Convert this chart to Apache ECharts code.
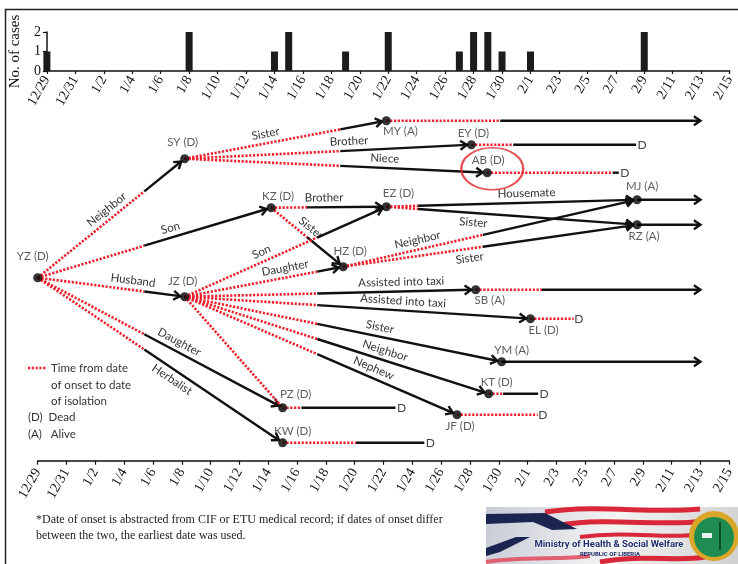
<!DOCTYPE html>
<html>
<head>
<meta charset="utf-8">
<script src="https://cdn.jsdelivr.net/npm/echarts@6/dist/echarts.min.js"></script>
<style>
html, body { margin: 0; padding: 0; background: #fff; }
#chart { width: 738px; height: 564px; }
</style>
</head>
<body>
<div id="chart"></div>
<script>
// axis tick labels, one every 2 days from 12/29
var tickLabels = ['12/29','12/31','1/2','1/4','1/6','1/8','1/10','1/12','1/14','1/16','1/18','1/20','1/22',
    '1/24','1/26','1/28','1/30','2/1','2/3','2/5','2/7','2/9','2/11','2/13','2/15'];

// epi curve (top)
var caseDates  = ['12/29','1/8','1/14','1/15','1/19','1/22','1/27','1/28','1/29','1/30','2/1','2/9'];
var caseCounts = [1, 2, 1, 2, 1, 2, 1, 2, 2, 1, 1, 2];

// transmission tree (bottom), days counted from 12/29
var nodeNames  = ['YZ','SY','JZ','KZ','PZ','KW','HZ','MY','EZ','EY','AB','SB','JF','KT','YM','EL','MJ','RZ'];
var nodeStatus = ['D','D','D','D','D','D','D','A','D','D','D','A','D','D','A','D','A','A'];
var onsetDay   = [0, 10.2, 10.2, 16.2, 17, 17, 21.2, 24.2, 24.2, 30.1, 31.2, 30.4, 29.1, 31.3, 32.2, 34.2, 41.6, 41.6];
var isolateDay = [7.4, 21, 19.4, 18.7, 18.3, 22.1, 30.9, 32.1, 26.4, 33, 39.9, 35, 34.7, 32.3, 32.2, 37.2, 41.6, 41.6];
var endDay     = [null, null, null, null, 24.9, 26.9, null, 46, null, 41.6, 40.4, 46, 34.7, 34.8, 46, 37.2, 46, 46];

var edgeFrom  = ['YZ','YZ','YZ','YZ','YZ','SY','SY','SY','KZ','KZ','JZ','JZ','JZ','JZ','JZ','JZ','JZ','JZ','EZ','EZ','HZ','HZ'];
var edgeTo    = ['SY','KZ','JZ','PZ','KW','MY','EY','AB','EZ','HZ','EZ','HZ','SB','EL','YM','KT','JF','PZ','MJ','RZ','MJ','RZ'];
var edgeLabel = ['Neighbor','Son','Husband','Daughter','Herbalist','Sister','Brother','Niece','Brother','Sister','Son',
    'Daughter','Assisted into taxi','Assisted into taxi','Sister','Neighbor','Nephew','','Housemate','Sister','Neighbor','Sister'];

// layout only: vertical row of each case, label placement
var nodeRow = [18.3, 30.2, 16.4, 25.3, 5.3, 1.8, 19.4, 34.0, 25.4, 31.6, 28.8, 17.1, 4.6, 6.7, 9.9, 14.2, 26.1, 23.6];
var nodeLabelOffset = [[-5,-21],[-2,-16],[-2,-15],[7,-11],[13,-13],[10,-11],[7,-15],[14,11],[12,-13],[2,-11],
    [1,-12],[14,11],[3,12],[8,-11],[10,-11],[13,12],[5,-13],[7,12]];
var labelAt   = [0.51,0.58,0.64,0.56,0.57,0.41,0.575,0.66,0.46,0.47,0.4,0.645,0.745,0.63,0.61,0.65,0.68,0,0.56,0.35,0.26,0.426];
var labelSide = [1,1,1,1,-1,1,1,1,1,1,1,1,1,1,1,1,1,1,1,-1,1,-1];

function toDay(s) {
    var p = s.split('/'), m = +p[0], d = +p[1];
    if (m === 12) return d - 29;
    if (m === 1) return d + 2;
    return d + 33;
}

var serif = '"Liberation Serif", "Times New Roman", serif';
var sans = 'Lato, "Open Sans", sans-serif';
var red = '#ee1f2a';
var redStyle = {stroke: red, lineWidth: 2.6, lineDash: [2.2, 1.6], fill: null};
var blackStyle = {stroke: '#111', lineWidth: 2.4, fill: null};

function arrowHead(tip, ux, uy) {
    var L = 8, th = 0.6, c = Math.cos(th), s = Math.sin(th);
    var vx = -ux, vy = -uy;
    var a1 = [tip[0] + L * (vx * c - vy * s), tip[1] + L * (vx * s + vy * c)];
    var a2 = [tip[0] + L * (vx * c + vy * s), tip[1] + L * (-vx * s + vy * c)];
    return {type: 'polyline', shape: {points: [a1, tip, a2]},
        style: {stroke: '#111', lineWidth: 2.4, fill: null, lineJoin: 'miter'}};
}

function edgeItem(params, api) {
    var i = params.dataIndex;
    var s = nodeNames.indexOf(edgeFrom[i]), t = nodeNames.indexOf(edgeTo[i]);
    var p0 = api.coord([onsetDay[s], nodeRow[s]]);
    var p1 = api.coord([onsetDay[t], nodeRow[t]]);
    var f = (isolateDay[s] - onsetDay[s]) / (onsetDay[t] - onsetDay[s]);
    f = Math.max(0, Math.min(1, f));
    var dx = p1[0] - p0[0], dy = p1[1] - p0[1], len = Math.sqrt(dx * dx + dy * dy);
    var ux = dx / len, uy = dy / len;
    var pm = [p0[0] + dx * f, p0[1] + dy * f];
    var tip = [p1[0] - ux * 4.5, p1[1] - uy * 4.5];
    var children = [];
    if (f > 0) children.push({type: 'line', shape: {x1: p0[0], y1: p0[1], x2: pm[0], y2: pm[1]}, style: redStyle});
    if (f < 1) {
        children.push({type: 'line', shape: {x1: pm[0], y1: pm[1], x2: tip[0], y2: tip[1]}, style: blackStyle});
        children.push(arrowHead(tip, ux, uy));
    }
    if (edgeLabel[i]) {
        var a = labelAt[i], side = labelSide[i];
        children.push({type: 'text', x: p0[0] + dx * a + uy * 9.5 * side, y: p0[1] + dy * a - ux * 9.5 * side,
            rotation: -Math.atan2(dy, dx),
            style: {text: edgeLabel[i], align: 'center', verticalAlign: 'middle', font: '11.5px ' + sans, fill: '#333'}});
    }
    return {type: 'group', children: children};
}

var tailNodes = [];
endDay.forEach(function (v, i) { if (v !== null) tailNodes.push(i); });

function tailItem(params, api) {
    var k = tailNodes[params.dataIndex];
    var p0 = api.coord([onsetDay[k], nodeRow[k]]);
    var pi = api.coord([isolateDay[k], nodeRow[k]]);
    var pe = api.coord([endDay[k], nodeRow[k]]);
    var children = [];
    if (pi[0] > p0[0]) children.push({type: 'line', shape: {x1: p0[0], y1: p0[1], x2: pi[0], y2: pi[1]}, style: redStyle});
    if (pe[0] > pi[0]) children.push({type: 'line', shape: {x1: pi[0], y1: pi[1], x2: pe[0] - 1, y2: pe[1]}, style: blackStyle});
    if (nodeStatus[k] === 'A') {
        children.push(arrowHead(pe, 1, 0));
    } else {
        children.push({type: 'text', x: pe[0] + 0.5, y: pe[1],
            style: {text: 'D', align: 'left', verticalAlign: 'middle', font: '12px ' + sans, fill: '#444'}});
    }
    return {type: 'group', children: children};
}

var axisLabelStyle = {fontFamily: serif, fontSize: 14, color: '#111', rotate: 60,
    formatter: function (v) { return tickLabels[Math.round(v / 2)]; }};

var chart = echarts.init(document.getElementById('chart'));
chart.setOption({
    animation: false,
    backgroundColor: '#fff',
    grid: [
        {left: 42.7, right: 8.4, top: 32, height: 39},
        {left: 37.7, right: 8.7, top: 100.7, height: 360}
    ],
    xAxis: [
        {type: 'value', gridIndex: 0, min: 0, max: 48, interval: 2, splitLine: {show: false},
            axisLine: {lineStyle: {color: '#111', width: 1.5}},
            axisTick: {length: 3, lineStyle: {color: '#111', width: 1.2}},
            axisLabel: Object.assign({margin: 6}, axisLabelStyle)},
        {type: 'value', gridIndex: 1, min: 0, max: 48, interval: 2, splitLine: {show: false},
            axisLine: {lineStyle: {color: '#111', width: 1.5}},
            axisTick: {length: 4, lineStyle: {color: '#111', width: 1.2}},
            axisLabel: Object.assign({margin: 9}, axisLabelStyle)}
    ],
    yAxis: [
        {type: 'value', gridIndex: 0, min: 0, max: 2, interval: 1, splitLine: {show: false},
            name: 'No. of cases', nameLocation: 'middle', nameRotate: 90, nameGap: 20,
            nameTextStyle: {fontFamily: serif, fontSize: 15, color: '#111'},
            axisLine: {show: true, lineStyle: {color: '#111', width: 1.5}},
            axisTick: {show: true, length: 4, lineStyle: {color: '#111', width: 1.2}},
            axisLabel: {fontFamily: serif, fontSize: 14, color: '#111', margin: 6}},
        {type: 'value', gridIndex: 1, min: 0, max: 36, show: false}
    ],
    graphic: [
        {type: 'polyline', silent: true, shape: {points: [[5.5, 564], [5.5, 9.5], [738, 9.5]]},
            style: {stroke: '#222', lineWidth: 1.5, fill: null}},
        // legend
        {type: 'line', shape: {x1: 28, y1: 368, x2: 47, y2: 368}, style: redStyle},
        {type: 'text', x: 51, y: 368, style: {text: 'Time from date', font: '11.5px ' + sans, fill: '#333', verticalAlign: 'middle'}},
        {type: 'text', x: 51, y: 385, style: {text: 'of onset to date', font: '11.5px ' + sans, fill: '#333', verticalAlign: 'middle'}},
        {type: 'text', x: 51, y: 401, style: {text: 'of isolation', font: '11.5px ' + sans, fill: '#333', verticalAlign: 'middle'}},
        {type: 'text', x: 28, y: 417, style: {text: '(D)  Dead', font: '11.5px ' + sans, fill: '#333', verticalAlign: 'middle'}},
        {type: 'text', x: 28, y: 434, style: {text: '(A)   Alive', font: '11.5px ' + sans, fill: '#333', verticalAlign: 'middle'}},
        // footnote
        {type: 'text', x: 36, y: 520, style: {text: '*Date of onset is abstracted from CIF or ETU medical record; if dates of onset differ',
            font: '12px ' + serif, fill: '#222', verticalAlign: 'middle'}},
        {type: 'text', x: 36, y: 536, style: {text: 'between the two, the earliest date was used.',
            font: '12px ' + serif, fill: '#222', verticalAlign: 'middle'}},
        // ministry banner
        {type: 'group', silent: true, children: [
            {type: 'rect', shape: {x: 486, y: 507, width: 252, height: 57},
                style: {fill: new echarts.graphic.LinearGradient(0, 0, 1, 1, [
                    {offset: 0, color: '#c8cbd6'}, {offset: 0.5, color: '#f4f4f4'}, {offset: 1, color: '#d0d0d0'}])}},
            {type: 'bezierCurve', shape: {x1: 545, y1: 512, cpx1: 600, cpy1: 504, cpx2: 650, cpy2: 514, x2: 700, y2: 509},
                style: {stroke: '#d9283a', lineWidth: 5, fill: null}},
            {type: 'bezierCurve', shape: {x1: 560, y1: 525, cpx1: 610, cpy1: 517, cpx2: 660, cpy2: 527, x2: 705, y2: 521},
                style: {stroke: '#d9283a', lineWidth: 5, fill: null}},
            {type: 'bezierCurve', shape: {x1: 580, y1: 537, cpx1: 630, cpy1: 530, cpx2: 670, cpy2: 540, x2: 700, y2: 534},
                style: {stroke: '#d9283a', lineWidth: 4, fill: null}},
            {type: 'bezierCurve', shape: {x1: 600, y1: 562, cpx1: 640, cpy1: 554, cpx2: 680, cpy2: 562, x2: 705, y2: 557},
                style: {stroke: '#d9283a', lineWidth: 5, fill: null}},
            {type: 'bezierCurve', shape: {x1: 486, y1: 562, cpx1: 520, cpy1: 556, cpx2: 560, cpy2: 560, x2: 590, y2: 556},
                style: {stroke: '#e06070', lineWidth: 4, fill: null}},
            {type: 'polygon', shape: {points: [[486, 514], [545, 513], [577, 529], [552, 530], [533, 522], [486, 524]]},
                style: {fill: '#1c2450'}},
            {type: 'polygon', shape: {points: [[486, 548], [516, 537], [530, 537], [500, 552], [486, 556]]},
                style: {fill: '#1c2450'}},
            {type: 'text', x: 609, y: 545, style: {text: 'Ministry of Health & Social Welfare', align: 'center', verticalAlign: 'middle',
                font: 'bold 9.5px Roboto', fill: '#1d2b6b', stroke: '#fff', lineWidth: 1.2}},
            {type: 'text', x: 610, y: 554, style: {text: 'REPUBLIC OF LIBERIA', align: 'center', verticalAlign: 'middle',
                font: 'bold 6px Roboto', fill: '#1d2b6b'}},
            {type: 'circle', shape: {cx: 714, cy: 536, r: 25}, style: {fill: '#d9a62a'}},
            {type: 'circle', shape: {cx: 714, cy: 537, r: 20}, style: {fill: '#1f8d52'}},
            {type: 'rect', shape: {x: 702, y: 533, width: 10, height: 5}, style: {fill: '#e8f0f0'}},
            {type: 'line', shape: {x1: 720, y1: 522, x2: 720, y2: 550}, style: {stroke: '#0d4d2a', lineWidth: 2}}
        ]}
    ],
    series: [
        {type: 'bar', xAxisIndex: 0, yAxisIndex: 0, barWidth: 7, itemStyle: {color: '#1c1c1c'},
            data: caseDates.map(function (d, i) { return [toDay(d), caseCounts[i]]; })},
        {type: 'custom', xAxisIndex: 1, yAxisIndex: 1, renderItem: edgeItem, silent: true,
            data: edgeFrom.map(function (n) { var s = nodeNames.indexOf(n); return [onsetDay[s], nodeRow[s]]; })},
        {type: 'custom', xAxisIndex: 1, yAxisIndex: 1, renderItem: tailItem, silent: true,
            data: tailNodes.map(function (k) { return [onsetDay[k], nodeRow[k]]; })},
        {type: 'scatter', xAxisIndex: 1, yAxisIndex: 1, symbolSize: 9, z: 5, silent: true,
            itemStyle: {color: '#000'},
            label: {show: true, position: 'inside', formatter: '{b}', fontFamily: sans, fontSize: 11.5, color: '#333'},
            data: nodeNames.map(function (n, i) {
                return {name: n + ' (' + nodeStatus[i] + ')', value: [onsetDay[i], nodeRow[i]],
                    label: {offset: nodeLabelOffset[i]}};
            })},
        {type: 'scatter', xAxisIndex: 1, yAxisIndex: 1, symbol: 'circle', symbolSize: [62, 42], symbolOffset: [5, -4],
            silent: true, z: 6, itemStyle: {color: 'rgba(0,0,0,0)', borderColor: '#e0262b', borderWidth: 2},
            data: [[onsetDay[10], nodeRow[10]]]}
    ]
});
</script>
</body>
</html>
